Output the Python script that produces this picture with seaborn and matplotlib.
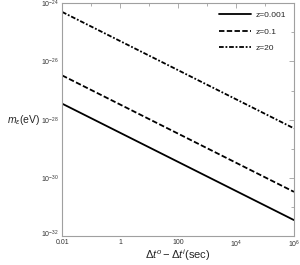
import matplotlib
matplotlib.use("Agg")
import matplotlib.pyplot as plt
import matplotlib.ticker as mticker
import matplotlib.transforms as mtransforms
import seaborn as sns
import pandas as pd
import numpy as np

# data (straight lines on log-log axes)
t_vals = [0.01, 1e6]
m_z0001 = [10**-27.45, 10**-31.45]
m_z01 = [10**-26.48, 10**-30.48]
m_z20 = [10**-24.3, 10**-28.3]
labels = ["z=0.001", "z=0.1", "z=20"]

df = pd.DataFrame({
    "t": t_vals * 3,
    "m": m_z0001 + m_z01 + m_z20,
    "z": [labels[0]] * 2 + [labels[1]] * 2 + [labels[2]] * 2,
})

sns.set_style("white")
plt.rcParams["font.family"] = ["Liberation Sans", "DejaVu Sans"]
plt.rcParams["mathtext.fontset"] = "custom"
plt.rcParams["mathtext.rm"] = "Liberation Sans"
plt.rcParams["mathtext.it"] = "Liberation Sans:italic"

fig = plt.figure(figsize=(3.0, 2.65), dpi=100)
ax = fig.add_axes([0.207, 0.109, 0.773, 0.879])

sns.lineplot(data=df, x="t", y="m", style="z", hue="z",
             palette=["black"] * 3,
             dashes={labels[0]: "", labels[1]: (3, 1.3), labels[2]: (2.6, 1.0, 1.0, 1.0)},
             linewidth=1.3, ax=ax)

ax.set_xscale("log")
ax.set_yscale("log")
ax.set_xlim(0.01, 1e6)
ax.set_ylim(1e-32, 1e-24)

xt = [0.01, 1, 100, 1e4, 1e6]
xtl = ["0.01", "1", "100", r"$10^4$", r"$10^6$"]
ax.set_xticks(xt)
ax.set_xticklabels(xtl)
ax.xaxis.set_minor_locator(mticker.FixedLocator([0.1, 10, 1000, 1e5]))
ax.xaxis.set_minor_formatter(mticker.NullFormatter())

yt = [1e-32, 1e-30, 1e-28, 1e-26, 1e-24]
ytl = [r"$10^{-32}$", r"$10^{-30}$", r"$10^{-28}$", r"$10^{-26}$", r"$10^{-24}$"]
ax.set_yticks(yt)
ax.set_yticklabels(ytl)
ax.yaxis.set_minor_locator(mticker.FixedLocator([1e-31, 1e-29, 1e-27, 1e-25]))
ax.yaxis.set_minor_formatter(mticker.NullFormatter())

for s in ax.spines.values():
    s.set_color("#a0a0a0")
    s.set_linewidth(0.8)

ax.tick_params(which="both", direction="in", top=True, right=True,
               color="#a0a0a0", width=0.6, labelsize=5.0,
               labelcolor="#333333")
ax.tick_params(axis="x", which="both", pad=2)
ax.tick_params(axis="y", which="both", pad=2.5)
ax.tick_params(which="major", length=3.5)
ax.tick_params(which="minor", length=2)

# nudge the lowest y label up a little so it does not collide with "0.01"
lab0 = ax.get_yticklabels()[0]
lab0.set_transform(lab0.get_transform() + mtransforms.ScaledTranslation(0, 2 / 72, fig.dpi_scale_trans))

ax.set_xlabel("")
ax.set_ylabel("")
fig.text(178 / 300, (265 - 259) / 265, r"$\Delta t^o - \Delta t^i$(sec)",
         fontsize=8, va="baseline", ha="center")
fig.text(7 / 300, 1 - 120 / 265, r"$m_\epsilon$(eV)", fontsize=7.5, va="center", ha="left")

leg = ax.legend(loc="upper right", frameon=False, fontsize=6, handlelength=3.8,
                labelspacing=1.0, borderaxespad=0.6, handletextpad=0.5)
leg.set_title(None)

fig.savefig("out.png", dpi=100)
